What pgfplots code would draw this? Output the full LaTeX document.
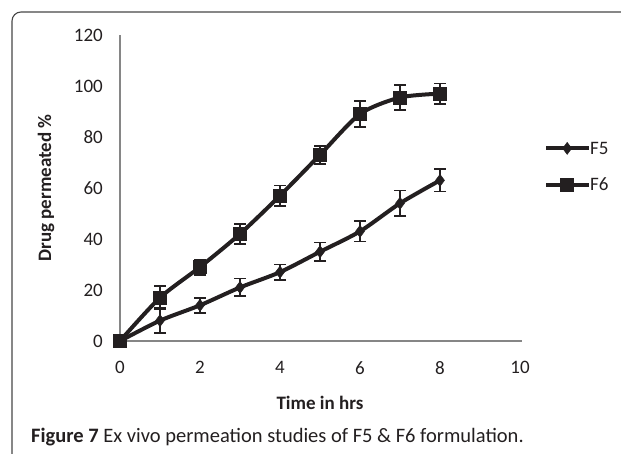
\documentclass[border=0pt]{standalone}
\usepackage{pgfplots}
\pgfplotsset{compat=1.18}
\usepackage{fontspec}
\setmainfont{Carlito}
\definecolor{ink}{RGB}{35,31,32}
\definecolor{axgray}{RGB}{134,134,134}
\definecolor{framegray}{RGB}{70,70,70}
\newcommand{\lf}{\fontsize{19}{22}\selectfont}
\begin{document}
\begin{tikzpicture}
\useasboundingbox (0,0) rectangle (621pt,453pt);
\draw[framegray, line width=1.1pt, rounded corners=9pt] (12pt,-10pt) -- (12pt,441pt) -- (660pt,441pt);
\begin{axis}[
  at={(120pt,112pt)}, anchor=south west,
  scale only axis, width=400pt, height=306pt,
  xmin=0, xmax=10, ymin=0, ymax=120,
  xtick={0,2,...,10}, ytick={0,20,...,120},
  axis lines=left, axis line style={-, axgray, line width=1.3pt},
  x axis line style={shorten >=-2pt},
  major tick length=0pt,
  clip=false,
  xticklabel={\lf\pgfmathprintnumber{\tick}},
  yticklabel={\lf\pgfmathprintnumber{\tick}},
  /pgf/number format/assume math mode=true,
  tick label style={text=ink, inner sep=0pt},
  yticklabel style={anchor=east, xshift=-17pt},
  xticklabel style={anchor=north, yshift=-20pt},
  xlabel={\lf\textbf{Time in hrs}},
  ylabel={\lf\textbf{Drug permeated \%}},
  xlabel style={at={(axis description cs:0.5,-0.2026)}, anchor=center, inner sep=0pt, text=ink},
  ylabel style={at={(axis description cs:-0.185,0.5)}, anchor=center, inner sep=0pt, text=ink},
  legend style={draw=none, fill=none, inner sep=0pt, anchor=west,
    at={(axis description cs:1.06,0.569)},
    nodes={inner sep=0pt, text height=12pt, text depth=0pt, text=ink},
    row sep=24pt},
  legend cell align=left,
  /tikz/every even column/.append style={column sep=4pt},
  legend image code/.code={\draw[mark repeat=2, mark phase=2, #1] plot coordinates {(0pt,0pt) (21pt,0pt) (42pt,0pt)};},
]
\addplot[ink, line width=4pt, smooth, tension=0.45,
  mark=diamond*, mark size=6pt, mark options={fill=ink, draw=ink, line width=0.5pt},
  error bars/.cd, y dir=both, y explicit,
  error bar style={line width=1.8pt, ink},
  error mark options={rotate=90, mark size=6pt, line width=1.8pt, ink}]
  coordinates {
  (0,0) +- (0,0)
  (1,8) +- (0,5)
  (2,14) +- (0,3)
  (3,21) +- (0,3.5)
  (4,27) +- (0,3)
  (5,35) +- (0,3.6)
  (6,43) +- (0,4)
  (7,54) +- (0,5)
  (8,63) +- (0,4.4)
  };
\addlegendentry{\lf F5}
\addplot[ink, line width=4pt, smooth, tension=0.45,
  mark=square*, mark size=6.5pt, mark options={fill=ink, draw=ink, line width=0.5pt},
  error bars/.cd, y dir=both, y explicit,
  error bar style={line width=1.8pt, ink},
  error mark options={rotate=90, mark size=6pt, line width=1.8pt, ink}]
  coordinates {
  (0,0) +- (0,0)
  (1,17) +- (0,4.5)
  (2,29) +- (0,3)
  (3,42) +- (0,4)
  (4,57) +- (0,4)
  (5,73) +- (0,3.5)
  (6,89) +- (0,5)
  (7,95.5) +- (0,5)
  (8,97) +- (0,4)
  };
\addlegendentry{\lf F6}
\end{axis}
\node[anchor=base west, inner sep=0pt, text=ink, font=\fontsize{20.5}{24}\selectfont] at (31pt,11pt) {\textbf{Figure 7} Ex vivo permeation studies of F5 \& F6 formulation.};
\end{tikzpicture}
\end{document}
